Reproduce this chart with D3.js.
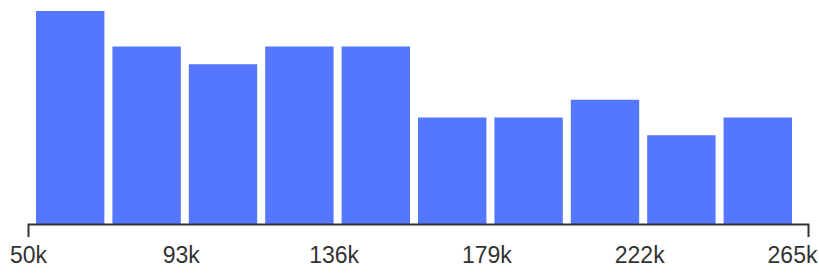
<!DOCTYPE html>
<html>
<head>
<meta charset="utf-8">
<script src="https://cdn.jsdelivr.net/npm/d3@7"></script>
<style>
  html, body { margin: 0; padding: 0; background: #fff; }
  svg { display: block; }
</style>
</head>
<body>
<svg id="chart" width="819" height="273"></svg>
<script>
// Histogram bin edges (income), counts per bin, and axis ticks
const binEdges = [50000, 71500, 93000, 114500, 136000, 157500, 179000, 200500, 222000, 243500, 265000];
const counts = [12, 10, 9, 10, 10, 6, 6, 7, 5, 6];
const tickValues = [50000, 93000, 136000, 179000, 222000, 265000];
const tickLabels = ["50k", "93k", "136k", "179k", "222k", "265k"];

const bins = counts.map((c, i) => ({ x0: binEdges[i], x1: binEdges[i + 1], count: c }));

const svg = d3.select("#chart");
const baseY = 224;
const x = d3.scaleLinear().domain([binEdges[0], binEdges[binEdges.length - 1]]).range([28, 792]);
const y = d3.scaleLinear().domain([0, d3.max(counts)]).range([baseY, 11]);
const gap = 8;

svg.append("g")
  .selectAll("rect")
  .data(bins)
  .join("rect")
  .attr("x", d => x(d.x0) + gap)
  .attr("width", d => x(d.x1) - x(d.x0) - gap)
  .attr("y", d => y(d.count))
  .attr("height", d => y(0) - y(d.count))
  .attr("fill", "#5577ff");

const axis = d3.axisBottom(x)
  .tickValues(tickValues)
  .tickFormat((d, i) => tickLabels[i])
  .tickSizeInner(0)
  .tickSizeOuter(13)
  .tickPadding(23);

const g = svg.append("g")
  .attr("transform", `translate(0,${baseY})`)
  .call(axis);

const r = x.range();
g.select(".domain")
  .attr("d", `M${r[0] + 0.5},13V0.5H${r[1] + 16.5}V13`)
  .attr("stroke", "#333")
  .attr("stroke-width", 2)
  .attr("fill", "none");
g.selectAll(".tick line").remove();
g.selectAll(".tick text")
  .attr("fill", "#333")
  .style("font-family", "'Liberation Sans', Arial, Helvetica, sans-serif")
  .style("font-size", "23px");
</script>
</body>
</html>
